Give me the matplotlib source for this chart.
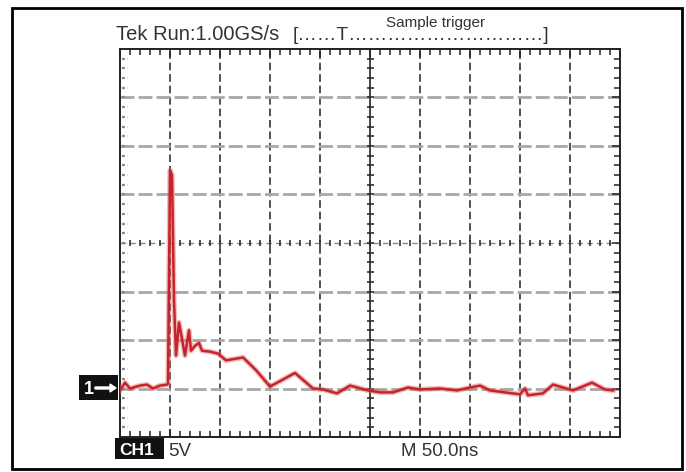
import numpy as np
import matplotlib
matplotlib.use('Agg')
import matplotlib.pyplot as plt
from matplotlib.patches import Rectangle, FancyArrow
from matplotlib.ticker import MultipleLocator

plt.rcParams['font.family'] = ['Liberation Sans', 'DejaVu Sans']

# trace: time in ns, voltage in V (CH1, 5 V/div, 50 ns/div)
t_ns = [0, 5, 10, 20, 27, 33, 40, 47, 48, 50, 52, 54, 56, 59, 65, 69, 71, 75, 79,
        82, 90, 98, 106, 123, 136, 150, 175, 193, 203, 217, 230, 248, 260, 273,
        288, 300, 320, 337, 350, 360, 370, 400, 405, 408, 423, 433, 443, 453,
        472, 485, 493]
volts = [-0.2, 0.6, 0.0, 0.3, 0.4, 0.0, 0.3, 0.4, 0.5, 22.5, 22.0, 9.1, 3.4, 6.8,
         3.4, 6.0, 3.9, 4.4, 4.7, 3.9, 3.8, 3.6, 2.9, 3.2, 1.9, 0.2, 1.6, 0.0,
         -0.1, -0.5, 0.3, -0.2, -0.4, -0.4, 0.1, -0.1, 0.0, -0.2, 0.1, 0.3, -0.2,
         -0.6, 0.0, -0.7, -0.5, 0.4, 0.1, -0.2, 0.6, -0.1, -0.2]

x_divs = np.arange(0, 501, 50)     # ns
y_divs = np.arange(-5, 36, 5)      # V

W, H = 686, 472
fig = plt.figure(figsize=(W / 100, H / 100), dpi=100)
ax = fig.add_axes([120 / W, 1 - 437 / H, 500 / W, (437 - 49) / H])
ax.set_xlim(0, 500)
ax.set_ylim(-5, 35)

# graticule
for x in x_divs[1:-1]:
    if x == 250:
        ax.axvline(x, color='#222222', lw=1.2, zorder=1)
    else:
        ax.axvline(x, color='#222222', lw=1.1, ls=(0, (5, 2.5)), zorder=1)
for y in y_divs[1:-1]:
    if y == 15:
        ax.axhline(y, color='#888888', lw=1.0, ls=(0, (4, 3)), zorder=1)
    else:
        ax.axhline(y, color='#a8a8a8', lw=2.0, ls=(0, (5, 1.5)), zorder=1)

# small marks on the centre cross
ax.vlines(np.arange(10, 500, 10), 14.65, 15.35, color='#222222', lw=1.1, zorder=2)
ax.hlines(np.arange(-4, 35, 1), 246.5, 253.5, color='#222222', lw=1.1, zorder=2)
# dotted marks along the left edge
ax.hlines(np.arange(-4, 35, 1), 1.5, 8, color='#888888', lw=1.6,
          linestyles=(0, (1.3, 1.3)), zorder=2)

ax.set_xticks(x_divs)
ax.set_yticks(y_divs)
ax.xaxis.set_minor_locator(MultipleLocator(10))
ax.yaxis.set_minor_locator(MultipleLocator(1))
ax.tick_params(which='both', direction='in', top=True, bottom=True, left=False,
               right=True, labelbottom=False, labelleft=False, length=4,
               width=1.1, color='#222222')
ax.tick_params(which='major', length=6)
for s in ax.spines.values():
    s.set_linewidth(1.4)
    s.set_color('#222222')

# the trace
ax.plot(t_ns, volts, color='#e06a6a', lw=3.8, alpha=0.45, zorder=3,
        solid_joinstyle='round')
ax.plot(t_ns, volts, color='#c8232a', lw=1.8, zorder=4, solid_joinstyle='round')


def px(x, y):
    return x / W, 1 - y / H


# outer border
fig.patches.append(Rectangle(px(12, 469), 670 / W, 461 / H, transform=fig.transFigure,
                             fill=False, lw=2, ec='black'))

# header
fig.text(*px(116, 40), 'Tek Run:1.00GS/s', fontsize=14.5, color='#333333')
fig.text(*px(293, 40), '[\u2026\u2026T' + '\u2026' * 10 + ']',
         fontsize=14, color='#333333')
fig.text(*px(386, 27), 'Sample trigger', fontsize=11, color='#333333')

# footer
fig.patches.append(Rectangle(px(115, 459), 49 / W, 21 / H, transform=fig.transFigure,
                             fc='#111111', ec='none'))
fig.text(*px(119, 455), 'CH1', fontsize=12.5, color='white', fontweight='bold')
fig.text(*px(168, 456), '5V', fontsize=13.5, color='#333333')
fig.text(*px(401, 456), 'M 50.0ns', fontsize=13.5, color='#333333')

# ground marker
fig.patches.append(Rectangle(px(79, 400), 39 / W, 25 / H, transform=fig.transFigure,
                             fc='#111111', ec='none'))
fig.text(*px(84, 394), '1', fontsize=13, color='white', fontweight='bold')
fig.patches.append(FancyArrow(95 / W, 1 - 388 / H, 15 / W, 0, width=2 / H,
                              head_width=8 / H, head_length=6 / W,
                              length_includes_head=False, transform=fig.transFigure,
                              color='white'))

fig.savefig('out.png', dpi=100)
